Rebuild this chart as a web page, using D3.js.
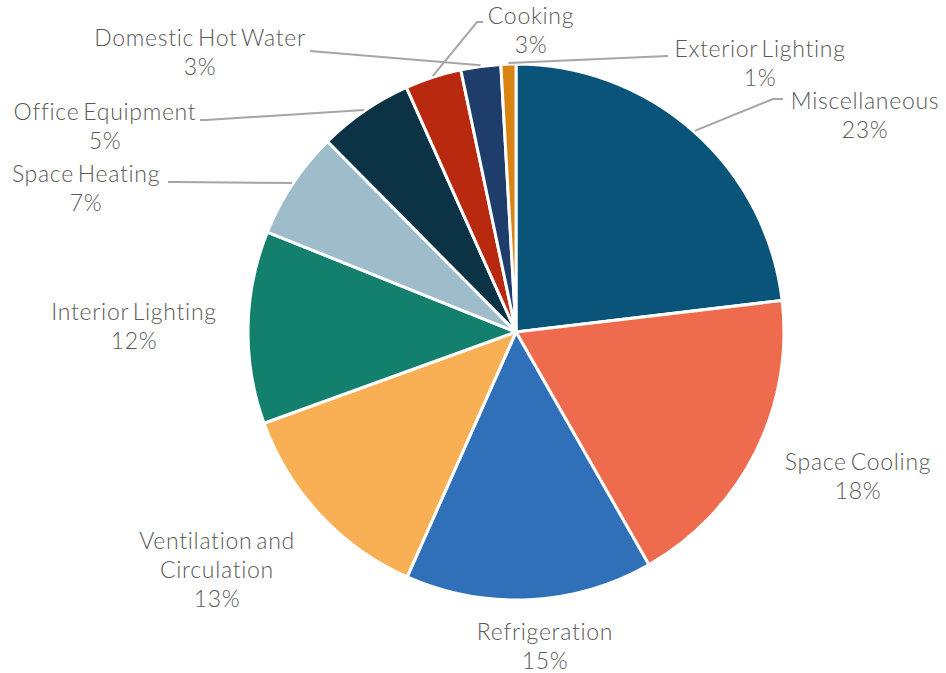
<!DOCTYPE html>
<html><head><meta charset="utf-8">
<script src="https://cdn.jsdelivr.net/npm/d3@7"></script>
<style>html,body{margin:0;padding:0;background:#fff;}svg{display:block;}</style>
</head><body>
<script>
const categories = ["Miscellaneous","Space Cooling","Refrigeration","Ventilation and Circulation","Interior Lighting","Space Heating","Office Equipment","Cooking","Domestic Hot Water","Exterior Lighting"];
const values = [23.1, 18.6, 14.9, 12.8, 11.6, 6.5, 5.7, 3.4, 2.4, 0.9];
const pctLabels = ["23%","18%","15%","13%","12%","7%","5%","3%","3%","1%"];
const colors = ["#0b5479","#ee6c4d","#3070b8","#f9b054","#12806d","#9fbccb","#0b3245","#b8290f","#1e3d6b","#d98312"];

// label layout: text lines, anchor center, first baseline, leader start (null = none)
const layout = [
  {lines:["Miscellaneous"], x:865, y:109, lead:[[783,99],[773,99]]},
  {lines:["Space Cooling"], x:858, y:470, lead:null},
  {lines:["Refrigeration"], x:545, y:640, lead:null},
  {lines:["Ventilation and","Circulation"], x:217, y:549, lead:null},
  {lines:["Interior Lighting"], x:134, y:320, lead:null},
  {lines:["Space Heating"], x:86, y:182, lead:[[168,182],[176,182]]},
  {lines:["Office Equipment"], x:105, y:120, lead:[[200,120],[206,120]]},
  {lines:["Cooking"], x:531, y:24, lead:[[483,22],[477,22]]},
  {lines:["Domestic Hot Water"], x:200, y:46, lead:[[310,51]]},
  {lines:["Exterior Lighting"], x:760, y:57, lead:[[668,56]]}
];

const W = 946, H = 673, cx = 516, cy = 332, R = 268;
const svg = d3.select("body").append("svg").attr("width", W).attr("height", H);
const g = svg.append("g").attr("transform", `translate(${cx},${cy})`);

const pie = d3.pie().sort(null).value(d => d)(values);
const arc = d3.arc().innerRadius(0).outerRadius(R);

g.selectAll("path.slice").data(pie).join("path")
  .attr("class","slice")
  .attr("d", arc)
  .attr("fill", (d,i) => colors[i])
  .attr("stroke", "#fff").attr("stroke-width", 3).attr("stroke-linejoin","round");

const font = "Lato, 'Open Sans', sans-serif";
pie.forEach((d,i) => {
  const L = layout[i];
  if (L.lead) {
    const mid = (d.startAngle + d.endAngle)/2;
    const ex = cx + Math.sin(mid)*(R+1), ey = cy - Math.cos(mid)*(R+1);
    const pts = L.lead.concat([[ex,ey]]);
    svg.append("path").attr("d", d3.line()(pts)).attr("fill","none")
      .attr("stroke","#a6a6a6").attr("stroke-width",2);
  }
  const t = svg.append("text").attr("text-anchor","middle")
    .attr("font-family", font).attr("font-weight", 300).attr("font-size", 23)
    .attr("letter-spacing", 0.7).attr("word-spacing", -3)
    .attr("fill", "#595959");
  const lines = L.lines.concat([pctLabels[i]]);
  lines.forEach((s,k) => t.append("tspan").attr("x", L.x).attr("y", L.y + k*29).text(s));
});
</script>
</body></html>
